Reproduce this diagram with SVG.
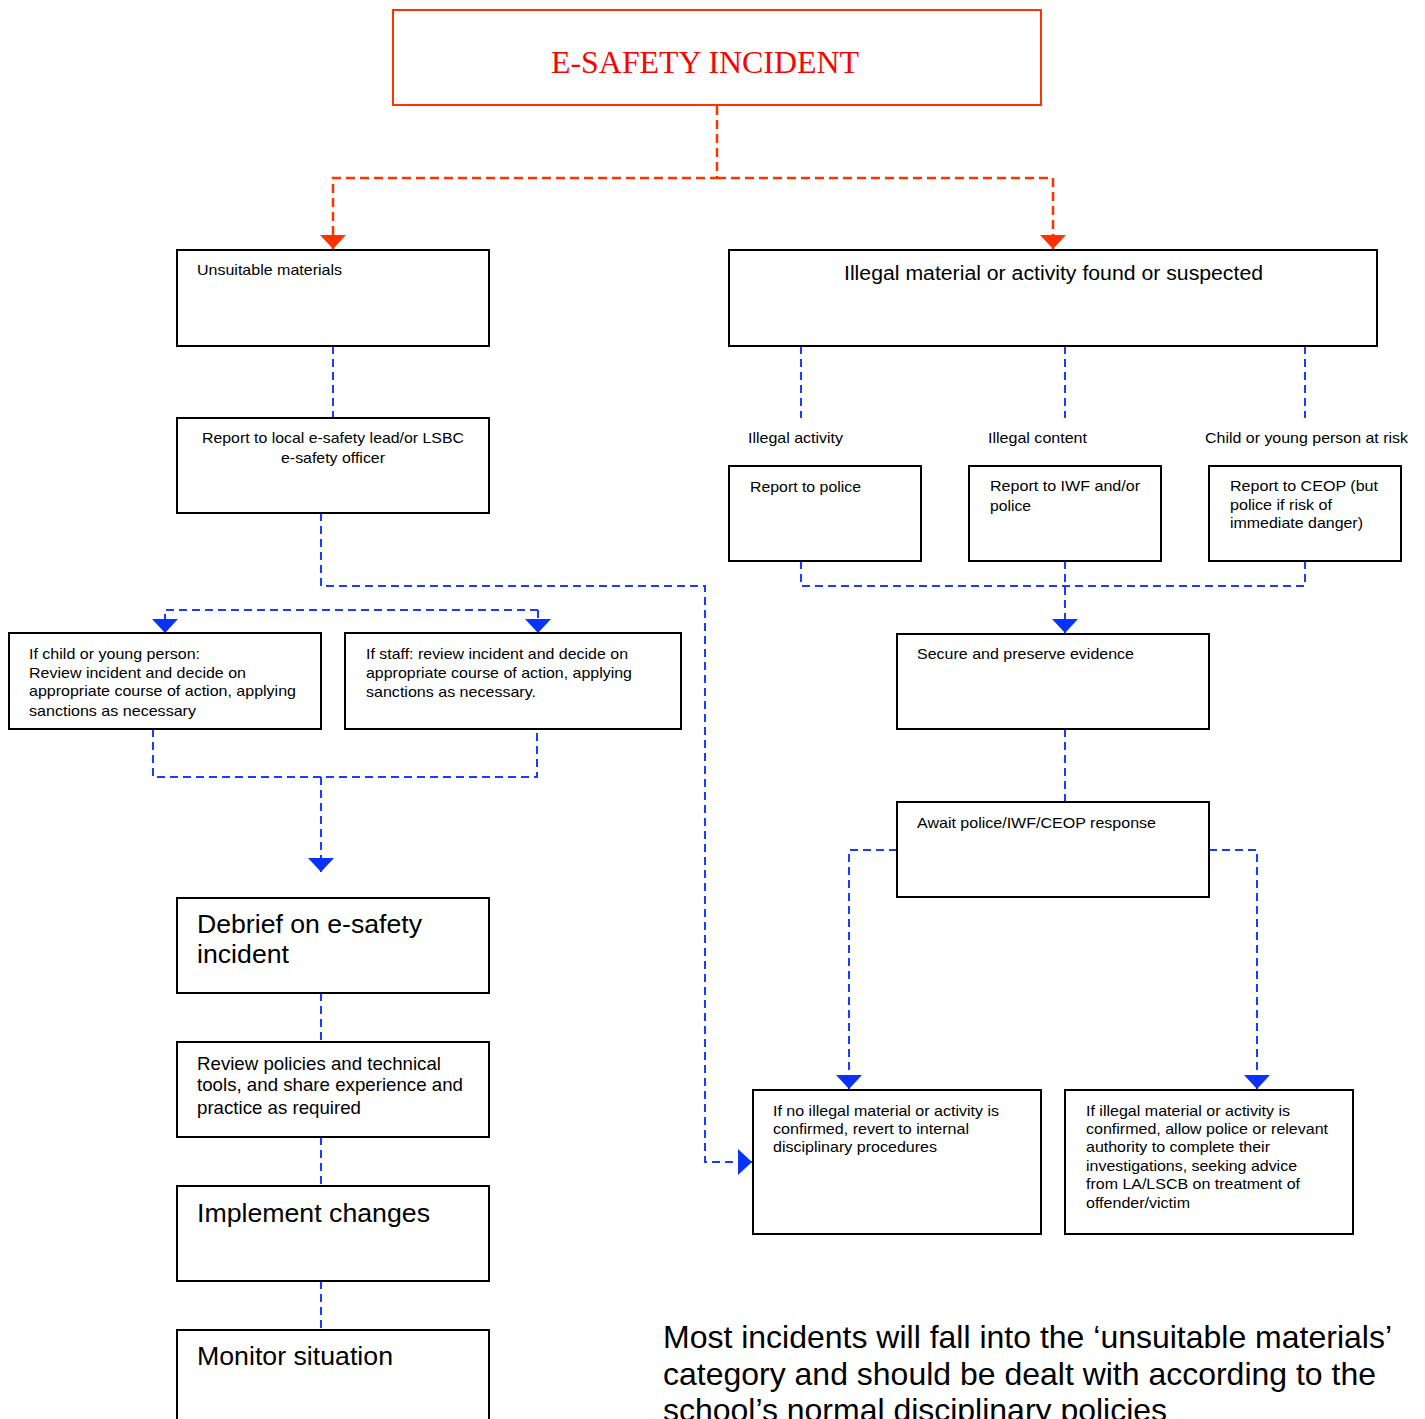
<svg xmlns="http://www.w3.org/2000/svg" width="1425" height="1419" viewBox="0 0 1425 1419">
<style>
.box{fill:#fff;stroke:#000;stroke-width:2}
.t{font-family:"Liberation Sans",Arial,sans-serif;fill:#000}
.s{font-size:15px}
.m{font-size:19px}
.l{font-size:26px}
.red{fill:none;stroke:#ff3300;stroke-width:2.5;stroke-dasharray:9 5}
.blue{fill:none;stroke:#1a3cff;stroke-width:2;stroke-dasharray:8 5}
</style>
<defs>
<marker id="ar" viewBox="0 0 14 26" refX="14" refY="13" markerWidth="14" markerHeight="26" markerUnits="userSpaceOnUse" orient="auto"><path d="M0,0 L14,13 L0,26 z" fill="#ff3300"/></marker>
<marker id="ab" viewBox="0 0 14 26" refX="14" refY="13" markerWidth="14" markerHeight="26" markerUnits="userSpaceOnUse" orient="auto"><path d="M0,0 L14,13 L0,26 z" fill="#0a32ff"/></marker>
</defs>
<rect width="1425" height="1419" fill="#fff"/>
<g id="connectors">
<path class="red" d="M717,106 V178 H333 V249" marker-end="url(#ar)"/>
<path class="red" d="M717,178 H1053 V249" marker-end="url(#ar)"/>
<path class="blue" d="M333,346 V418"/>
<path class="blue" d="M321,513 V586 H705 V1162 H752" marker-end="url(#ab)"/>
<path class="blue" d="M538,610 H165 V633" marker-end="url(#ab)"/>
<path class="blue" d="M538,610 V633" marker-end="url(#ab)"/>
<path class="blue" d="M153,729 V777 H537 V729"/>
<path class="blue" d="M321,777 V872" marker-end="url(#ab)"/>
<path class="blue" d="M321,993 V1042"/>
<path class="blue" d="M321,1137 V1186"/>
<path class="blue" d="M321,1281 V1330"/>
<path class="blue" d="M801,346 V418"/>
<path class="blue" d="M1065,346 V418"/>
<path class="blue" d="M1305,346 V418"/>
<path class="blue" d="M801,561 V586 H1305 V561"/>
<path class="blue" d="M1065,561 V633" marker-end="url(#ab)"/>
<path class="blue" d="M1065,729 V802"/>
<path class="blue" d="M897,850 H849 V1089" marker-end="url(#ab)"/>
<path class="blue" d="M1209,850 H1257 V1089" marker-end="url(#ab)"/>
</g>
<g id="incident">
<rect x="393" y="10" width="648" height="95" fill="#fff" stroke="#ff3300" stroke-width="2"/>
<text x="705" y="73" text-anchor="middle" font-family="'Liberation Serif','Times New Roman',serif" font-size="31" fill="#ff0000" textLength="308" lengthAdjust="spacingAndGlyphs">E-SAFETY INCIDENT</text>
</g>
<g id="unsuitable">
<rect class="box" x="177" y="250" width="312" height="96"/>
<text class="t s" x="197" y="275" textLength="145" lengthAdjust="spacingAndGlyphs">Unsuitable materials</text>
</g>
<g id="illegal">
<rect class="box" x="729" y="250" width="648" height="96"/>
<text class="t" x="844" y="280" font-size="20" textLength="419" lengthAdjust="spacingAndGlyphs">Illegal material or activity found or suspected</text>
</g>
<g id="report-local">
<rect class="box" x="177" y="418" width="312" height="95"/>
<text class="t s" x="202" y="443" textLength="262" lengthAdjust="spacingAndGlyphs">Report to local e-safety lead/or LSBC</text>
<text class="t s" x="281" y="463" textLength="104" lengthAdjust="spacingAndGlyphs">e-safety officer</text>
</g>
<g id="child">
<rect class="box" x="9" y="633" width="312" height="96"/>
<text class="t s" x="29" y="659" textLength="171" lengthAdjust="spacingAndGlyphs">If child or young person:</text>
<text class="t s" x="29" y="678" textLength="217" lengthAdjust="spacingAndGlyphs">Review incident and decide on</text>
<text class="t s" x="29" y="696" textLength="267" lengthAdjust="spacingAndGlyphs">appropriate course of action, applying</text>
<text class="t s" x="29" y="716" textLength="167" lengthAdjust="spacingAndGlyphs">sanctions as necessary</text>
</g>
<g id="staff">
<rect class="box" x="345" y="633" width="336" height="96"/>
<text class="t s" x="366" y="659" textLength="262" lengthAdjust="spacingAndGlyphs">If staff: review incident and decide on</text>
<text class="t s" x="366" y="678" textLength="266" lengthAdjust="spacingAndGlyphs">appropriate course of action, applying</text>
<text class="t s" x="366" y="697" textLength="170" lengthAdjust="spacingAndGlyphs">sanctions as necessary.</text>
</g>
<g id="debrief">
<rect class="box" x="177" y="898" width="312" height="95"/>
<text class="t l" x="197" y="933" textLength="225" lengthAdjust="spacingAndGlyphs">Debrief on e-safety</text>
<text class="t l" x="197" y="963" textLength="92" lengthAdjust="spacingAndGlyphs">incident</text>
</g>
<g id="review">
<rect class="box" x="177" y="1042" width="312" height="95"/>
<text class="t m" x="197" y="1070" textLength="244" lengthAdjust="spacingAndGlyphs">Review policies and technical</text>
<text class="t m" x="197" y="1091" textLength="266" lengthAdjust="spacingAndGlyphs">tools, and share experience and</text>
<text class="t m" x="197" y="1114" textLength="164" lengthAdjust="spacingAndGlyphs">practice as required</text>
</g>
<g id="implement">
<rect class="box" x="177" y="1186" width="312" height="95"/>
<text class="t l" x="197" y="1222" textLength="233" lengthAdjust="spacingAndGlyphs">Implement changes</text>
</g>
<g id="monitor">
<rect class="box" x="177" y="1330" width="312" height="100"/>
<text class="t l" x="197" y="1365" textLength="196" lengthAdjust="spacingAndGlyphs">Monitor situation</text>
</g>
<g id="labels">
<text class="t s" x="748" y="443" textLength="95" lengthAdjust="spacingAndGlyphs">Illegal activity</text>
<text class="t s" x="988" y="443" textLength="99" lengthAdjust="spacingAndGlyphs">Illegal content</text>
<text class="t s" x="1205" y="443" textLength="203" lengthAdjust="spacingAndGlyphs">Child or young person at risk</text>
</g>
<g id="police">
<rect class="box" x="729" y="466" width="192" height="95"/>
<text class="t s" x="750" y="492" textLength="111" lengthAdjust="spacingAndGlyphs">Report to police</text>
</g>
<g id="iwf">
<rect class="box" x="969" y="466" width="192" height="95"/>
<text class="t s" x="990" y="491" textLength="150" lengthAdjust="spacingAndGlyphs">Report to IWF and/or</text>
<text class="t s" x="990" y="511" textLength="41" lengthAdjust="spacingAndGlyphs">police</text>
</g>
<g id="ceop">
<rect class="box" x="1209" y="466" width="192" height="95"/>
<text class="t s" x="1230" y="491" textLength="148" lengthAdjust="spacingAndGlyphs">Report to CEOP (but</text>
<text class="t s" x="1230" y="510" textLength="102" lengthAdjust="spacingAndGlyphs">police if risk of</text>
<text class="t s" x="1230" y="528" textLength="133" lengthAdjust="spacingAndGlyphs">immediate danger)</text>
</g>
<g id="secure">
<rect class="box" x="897" y="634" width="312" height="95"/>
<text class="t s" x="917" y="659" textLength="217" lengthAdjust="spacingAndGlyphs">Secure and preserve evidence</text>
</g>
<g id="await">
<rect class="box" x="897" y="802" width="312" height="95"/>
<text class="t s" x="917" y="828" textLength="239" lengthAdjust="spacingAndGlyphs">Await police/IWF/CEOP response</text>
</g>
<g id="not-confirmed">
<rect class="box" x="753" y="1090" width="288" height="144"/>
<text class="t s" x="773" y="1116" textLength="226" lengthAdjust="spacingAndGlyphs">If no illegal material or activity is</text>
<text class="t s" x="773" y="1134" textLength="196" lengthAdjust="spacingAndGlyphs">confirmed, revert to internal</text>
<text class="t s" x="773" y="1152" textLength="164" lengthAdjust="spacingAndGlyphs">disciplinary procedures</text>
</g>
<g id="confirmed">
<rect class="box" x="1065" y="1090" width="288" height="144"/>
<text class="t s" x="1086" y="1116" textLength="204" lengthAdjust="spacingAndGlyphs">If illegal material or activity is</text>
<text class="t s" x="1086" y="1134" textLength="242" lengthAdjust="spacingAndGlyphs">confirmed, allow police or relevant</text>
<text class="t s" x="1086" y="1152" textLength="184" lengthAdjust="spacingAndGlyphs">authority to complete their</text>
<text class="t s" x="1086" y="1171" textLength="211" lengthAdjust="spacingAndGlyphs">investigations, seeking advice</text>
<text class="t s" x="1086" y="1189" textLength="214" lengthAdjust="spacingAndGlyphs">from LA/LSCB on treatment of</text>
<text class="t s" x="1086" y="1208" textLength="104" lengthAdjust="spacingAndGlyphs">offender/victim</text>
</g>
<g id="note">
<text class="t" font-size="32" x="663" y="1348" textLength="729" lengthAdjust="spacingAndGlyphs">Most incidents will fall into the ‘unsuitable materials’</text>
<text class="t" font-size="32" x="663" y="1385" textLength="713" lengthAdjust="spacingAndGlyphs">category and should be dealt with according to the</text>
<text class="t" font-size="32" x="663" y="1421" textLength="504" lengthAdjust="spacingAndGlyphs">school’s normal disciplinary policies</text>
</g>
</svg>
